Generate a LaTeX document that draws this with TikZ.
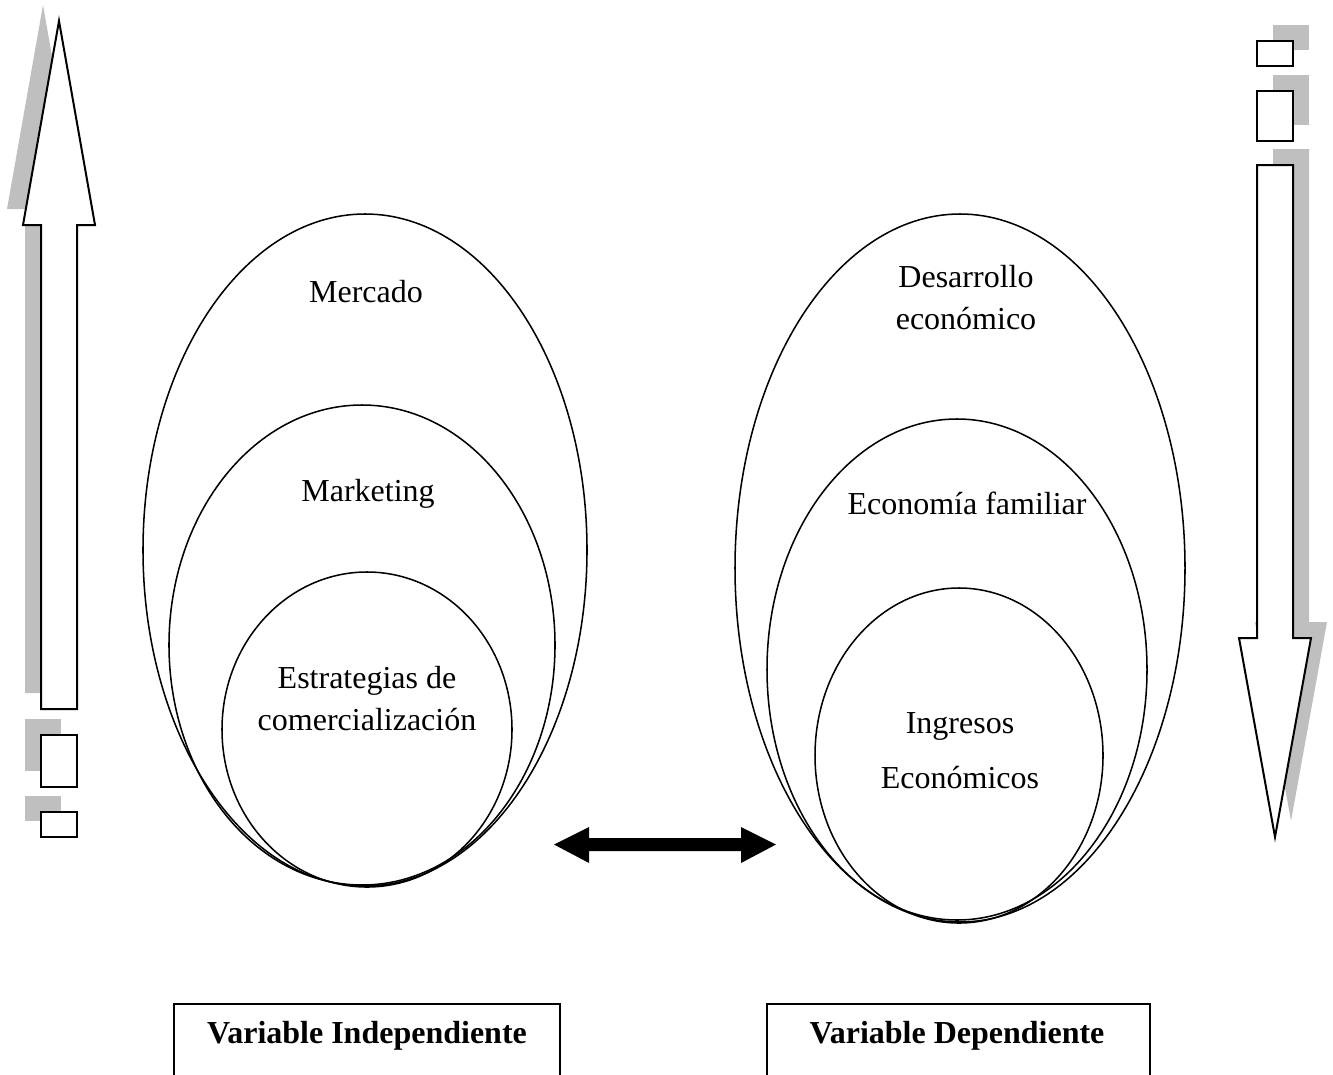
\documentclass[tikz,border=0pt]{standalone}
\usepackage{fontspec}
\setmainfont{Liberation Serif}
\usetikzlibrary{shapes.geometric}

\tikzset{
  oval/.style={draw, ellipse, line width=1.15pt, inner sep=0pt, outer sep=0pt},
  txt/.style={anchor=base, inner sep=0pt, font=\fontsize{24}{29}\selectfont},
  boldtxt/.style={txt, font=\fontsize{24}{29}\selectfont\bfseries},
  shade/.style={fill=black!25, draw=none},
  blockarrow/.style={draw, fill=white, line width=1.5pt, line join=miter},
  varbox/.style={draw, line width=1.2pt, anchor=north, minimum width=289.5pt, minimum height=90pt, inner sep=0pt}
}

\begin{document}
\begin{tikzpicture}[x=0.75pt, y=-0.75pt]
\useasboundingbox (0,0) rectangle (1333,1074);
\clip (0,0) rectangle (1333,1074);

% ---- left: upward block arrow with its two small blocks (shadow up-left)
\begin{scope}[shift={(-16,-16)}]
  \fill[shade] (41,709) -- (41,225) -- (23,225) -- (59,21) -- (95,225) -- (77,225) -- (77,709) -- cycle;
  \fill[shade] (41,735) rectangle (77,787);
  \fill[shade] (41,812) rectangle (77,837);
\end{scope}
\draw[blockarrow] (41,709) -- (41,225) -- (23,225) -- (59,21) -- (95,225) -- (77,225) -- (77,709) -- cycle;
\draw[blockarrow] (41,735) rectangle (77,787);
\draw[blockarrow] (41,812) rectangle (77,837);

% ---- right: downward block arrow with its two small blocks (shadow up-right)
\begin{scope}[shift={(16,-16)}]
  \fill[shade] (1257,165) -- (1257,638) -- (1239,638) -- (1275,837) -- (1311,638) -- (1293,638) -- (1293,165) -- cycle;
  \fill[shade] (1257,41) rectangle (1293,66);
  \fill[shade] (1257,91) rectangle (1293,141);
\end{scope}
\draw[blockarrow] (1257,165) -- (1257,638) -- (1239,638) -- (1275,837) -- (1311,638) -- (1293,638) -- (1293,165) -- cycle;
\draw[blockarrow] (1257,41) rectangle (1293,66);
\draw[blockarrow] (1257,91) rectangle (1293,141);

% ---- independent variable: nested ovals
\node[oval, minimum width=333pt,   minimum height=504pt]    (mercado)   at (365,550)   {};
\node[oval, minimum width=289.5pt, minimum height=360pt]    (marketing) at (362,645)   {};
\node[oval, minimum width=217.5pt, minimum height=236.25pt] (estrat)    at (367,729.5) {};

\node[txt] (tmercado) at (366,302) {Mercado};
\node[txt] (tmarket)  at (368,501) {Marketing};
\node[txt] (testr1)   at (367,688) {Estrategias de};
\node[txt] (testr2)   at (367,730) {comercialización};

% ---- dependent variable: nested ovals
\node[oval, minimum width=337.5pt, minimum height=531pt]    (desarrollo) at (960,568)   {};
\node[oval, minimum width=285pt,   minimum height=375.75pt] (economia)   at (957,669.5) {};
\node[oval, minimum width=216pt,   minimum height=251.25pt] (ingresos)   at (959,755.5) {};

\node[txt] (tdes1) at (966,287) {Desarrollo};
\node[txt] (tdes2) at (966,329) {económico};
\node[txt] (teco)  at (967,514) {Economía familiar};
\node[txt] (ting1) at (960,733) {Ingresos};
\node[txt] (ting2) at (960,788) {Económicos};

% ---- two-headed block arrow between the groups
\coordinate (dl) at (554,844.5);
\coordinate (dr) at (776,844.5);
\fill[black] (dl) -- (589,827) -- (589,838) -- (741,838) -- (741,827) -- (dr)
  -- (741,863) -- (741,851) -- (589,851) -- (589,863) -- cycle;

% ---- variable labels
\node[varbox] (vibox) at (367,1003) {};
\node[boldtxt] (vitxt) at (367,1043) {Variable Independiente};
\node[varbox, minimum width=287.25pt] (vdbox) at (958.5,1003) {};
\node[boldtxt] (vdtxt) at (957,1043) {Variable Dependiente};
\end{tikzpicture}
\end{document}
